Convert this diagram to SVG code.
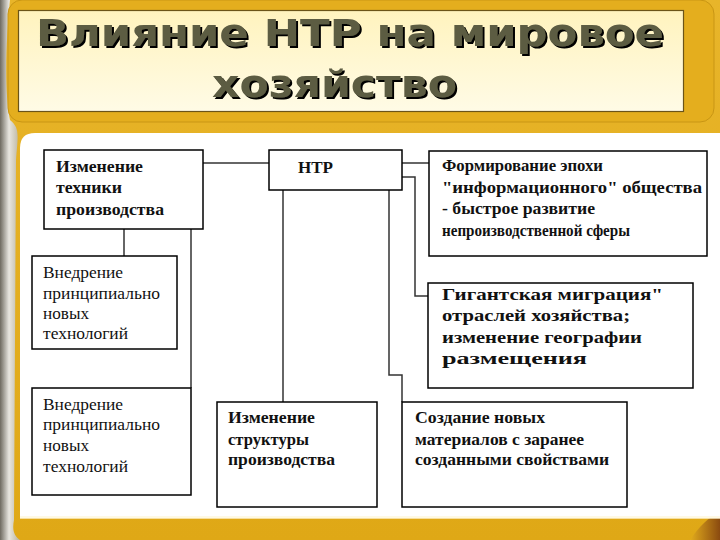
<svg xmlns="http://www.w3.org/2000/svg" width="720" height="540" viewBox="0 0 720 540">
<defs>
<linearGradient id="gold" x1="0" y1="0" x2="0" y2="1">
<stop offset="0" stop-color="#E8B52A"/>
<stop offset="1" stop-color="#DFA816"/>
</linearGradient>
<linearGradient id="silver" x1="0" y1="0" x2="1" y2="0">
<stop offset="0" stop-color="#6E6A60"/>
<stop offset="0.45" stop-color="#E8E6E0"/>
<stop offset="1" stop-color="#B9B19A"/>
</linearGradient>
<linearGradient id="titlefill" x1="0" y1="0" x2="0" y2="1">
<stop offset="0" stop-color="#FFF3BE"/>
<stop offset="1" stop-color="#FFFBE6"/>
</linearGradient>
<linearGradient id="brown" x1="0" y1="0" x2="1" y2="0">
<stop offset="0" stop-color="#E2AC1C"/>
<stop offset="1" stop-color="#8A4A10"/>
</linearGradient>
<filter id="tshadow" x="-5%" y="-20%" width="110%" height="140%">
<feDropShadow dx="2" dy="2" stdDeviation="0.3" flood-color="#000" flood-opacity="1"/>
</filter>
<style>
.box{fill:#fff;stroke:#000;stroke-width:1.5}
.t{font-family:"Liberation Serif","Times New Roman",serif;font-size:16px;fill:#111}
.b{font-weight:bold}
.con{fill:none;stroke:#333;stroke-width:1.5}
.title{font-family:"DejaVu Sans",Verdana,sans-serif;font-weight:bold;font-size:38px;fill:#5C5B42}
</style>
</defs>

<!-- background -->
<rect x="0" y="0" width="720" height="540" fill="url(#gold)"/>
<path d="M0 0 H10 C6 40 4 90 10 120 C20 128 18 135 16 160 L14 520 C12 530 14 536 20 540 H0 Z" fill="url(#silver)"/>
<path d="M690 540 C700 525 708 518 720 512 V540 Z" fill="url(#brown)"/>
<rect x="8" y="0" width="706" height="122" rx="14" fill="#E4AE1E" stroke="#C99614" stroke-width="1"/>

<!-- title panel -->
<g id="title">
<rect x="18.5" y="10.5" width="665" height="101" fill="url(#titlefill)" stroke="#6B5418" stroke-width="1.2"/>
<text class="title" x="36" y="46" textLength="628" lengthAdjust="spacingAndGlyphs" filter="url(#tshadow)">Влияние НТР на мировое</text>
<text class="title" x="212" y="97" textLength="245" lengthAdjust="spacingAndGlyphs" filter="url(#tshadow)">хозяйство</text>
</g>

<!-- content panel -->
<path d="M20 518 V148 Q20 133 35 133 H720 V518 Z" fill="#fff"/>
<rect x="20" y="516" width="700" height="3" fill="#FFF6D8" opacity="0.7"/>

<!-- connectors -->
<g id="connectors">
<line class="con" x1="203" y1="163" x2="269" y2="163"/>
<line class="con" x1="402" y1="163" x2="429" y2="163"/>
<polyline class="con" points="402,177 415,177 415,296 428,296"/>
<line class="con" x1="124" y1="229" x2="124" y2="256" stroke-width="3"/>
<line class="con" x1="191" y1="229" x2="191" y2="388"/>
<line class="con" x1="283" y1="190" x2="283" y2="402"/>
<polyline class="con" points="389,190 389,375 402,375 402,402"/>
</g>

<g id="n1">
<rect class="box" x="44" y="150" width="159" height="79"/>
<text class="t b" x="56" y="172" textLength="87" lengthAdjust="spacingAndGlyphs">Изменение</text>
<text class="t b" x="56" y="193" textLength="66" lengthAdjust="spacingAndGlyphs">техники</text>
<text class="t b" x="56" y="215" textLength="108" lengthAdjust="spacingAndGlyphs">производства</text>
</g>

<g id="ntr">
<rect class="box" x="269" y="150" width="133" height="40"/>
<text class="t b" x="298" y="173" textLength="35" lengthAdjust="spacingAndGlyphs">НТР</text>
</g>

<g id="n3">
<rect class="box" x="429" y="151" width="278" height="105"/>
<text class="t b" x="442" y="171" textLength="161" lengthAdjust="spacingAndGlyphs">Формирование эпохи</text>
<text class="t b" x="442" y="193" textLength="260" lengthAdjust="spacingAndGlyphs">"информационного" общества</text>
<text class="t b" x="442" y="214" textLength="153" lengthAdjust="spacingAndGlyphs">- быстрое развитие</text>
<text class="t b" x="442" y="236" textLength="188" lengthAdjust="spacingAndGlyphs">непроизводственной сферы</text>
</g>

<g id="n4">
<rect class="box" x="428" y="283" width="265" height="105"/>
<text class="t b" x="442" y="300" textLength="221" lengthAdjust="spacingAndGlyphs">Гигантская миграция"</text>
<text class="t b" x="442" y="321" textLength="188" lengthAdjust="spacingAndGlyphs">отраслей хозяйства;</text>
<text class="t b" x="442" y="343" textLength="200" lengthAdjust="spacingAndGlyphs">изменение географии</text>
<text class="t b" x="442" y="364" textLength="145" lengthAdjust="spacingAndGlyphs">размещения</text>
</g>

<g id="n5">
<rect class="box" x="32" y="256" width="145" height="93"/>
<text class="t" x="43" y="278" textLength="80" lengthAdjust="spacingAndGlyphs">Внедрение</text>
<text class="t" x="43" y="299" textLength="117" lengthAdjust="spacingAndGlyphs">принципиально</text>
<text class="t" x="43" y="319" textLength="46" lengthAdjust="spacingAndGlyphs">новых</text>
<text class="t" x="43" y="339" textLength="85" lengthAdjust="spacingAndGlyphs">технологий</text>
</g>

<g id="n6">
<rect class="box" x="32" y="388" width="159" height="107"/>
<text class="t" x="43" y="410" textLength="80" lengthAdjust="spacingAndGlyphs">Внедрение</text>
<text class="t" x="43" y="430" textLength="117" lengthAdjust="spacingAndGlyphs">принципиально</text>
<text class="t" x="43" y="451" textLength="46" lengthAdjust="spacingAndGlyphs">новых</text>
<text class="t" x="43" y="472" textLength="85" lengthAdjust="spacingAndGlyphs">технологий</text>
</g>

<g id="n7">
<rect class="box" x="217" y="402" width="160" height="105"/>
<text class="t b" x="228" y="423" textLength="87" lengthAdjust="spacingAndGlyphs">Изменение</text>
<text class="t b" x="228" y="445" textLength="81" lengthAdjust="spacingAndGlyphs">структуры</text>
<text class="t b" x="228" y="465" textLength="107" lengthAdjust="spacingAndGlyphs">производства</text>
</g>

<g id="n8">
<rect class="box" x="402" y="402" width="225" height="105"/>
<text class="t b" x="415" y="423" textLength="130" lengthAdjust="spacingAndGlyphs">Создание новых</text>
<text class="t b" x="415" y="445" textLength="169" lengthAdjust="spacingAndGlyphs">материалов с заранее</text>
<text class="t b" x="415" y="465" textLength="194" lengthAdjust="spacingAndGlyphs">созданными свойствами</text>
</g>
</svg>
